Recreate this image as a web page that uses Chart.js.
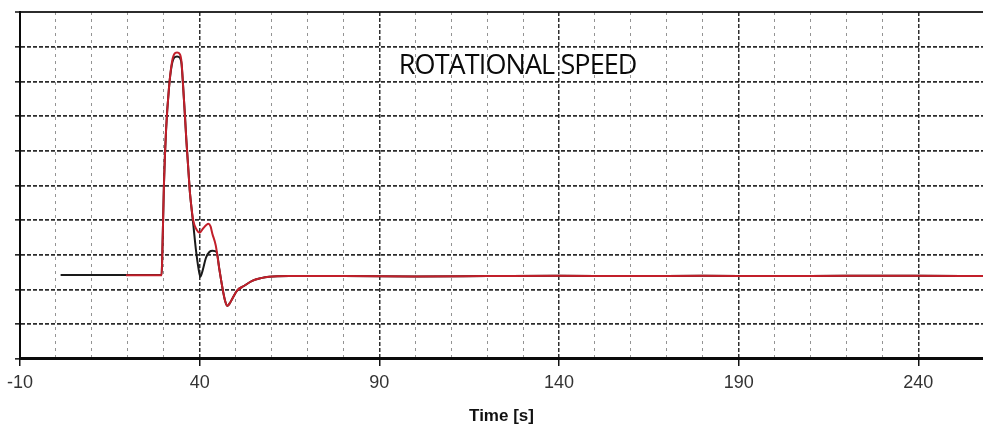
<!DOCTYPE html>
<html>
<head>
<meta charset="utf-8">
<script src="https://cdn.jsdelivr.net/npm/chart.js@4.4.1/dist/chart.umd.min.js"></script>
<style>
  html, body { margin: 0; padding: 0; background: #fff; }
  canvas { display: block; }
</style>
</head>
<body>
<canvas id="chart" width="983" height="431"></canvas>
<script>
// Time axis range and labelled ticks
const TIME_MIN = -10;
const TIME_MAX = 258;
const majorTicks = [-10, 40, 90, 140, 190, 240];

// Simulated rotational speed (red)
const simTime = [19.5, 25, 29.4, 29.6, 30.05, 30.65, 31.45, 32.2, 32.9, 33.7, 34.5, 34.96, 35.38, 35.9, 36.3, 37.24, 37.5, 38.2, 39.2, 40.03, 40.95, 42.42, 43.03, 43.53, 44.48, 45.4, 46.32, 47.07, 47.71, 48.46, 49.2, 50.4, 52.4, 54.6, 57.1, 59.3, 64.9, 80, 100, 120, 140, 160, 180, 200, 220, 240, 258];
const simSpeed = [2.41, 2.41, 2.41, 3.0, 5.0, 6.6, 7.8, 8.5, 8.78, 8.83, 8.78, 8.55, 7.89, 7.02, 6.30, 4.86, 4.57, 4.00, 3.72, 3.64, 3.76, 3.90, 3.82, 3.61, 3.27, 2.64, 2.06, 1.68, 1.53, 1.62, 1.76, 1.97, 2.11, 2.25, 2.33, 2.37, 2.39, 2.39, 2.38, 2.39, 2.40, 2.39, 2.40, 2.39, 2.40, 2.40, 2.39];

// Measured rotational speed (black)
const measTime = [1.3, 10, 20, 29.4, 29.6, 30.05, 30.65, 31.45, 32.2, 32.9, 33.7, 34.5, 34.96, 35.38, 35.9, 36.3, 37.24, 37.5, 38.2, 38.99, 39.69, 40.19, 40.8, 41.77, 42.75, 43.6, 44.75, 45.4, 46.32, 47.07, 47.71, 48.46, 49.2, 50.4, 52.4, 54.6, 57.1, 59.3, 64.9, 80, 100, 120, 140, 160, 180, 200, 220, 240, 258];
const measSpeed = [2.42, 2.42, 2.42, 2.42, 3.0, 5.0, 6.6, 7.8, 8.45, 8.68, 8.72, 8.68, 8.50, 7.89, 7.02, 6.30, 4.86, 4.57, 3.90, 3.12, 2.60, 2.37, 2.54, 2.92, 3.09, 3.12, 3.08, 2.64, 2.06, 1.68, 1.53, 1.62, 1.76, 1.97, 2.11, 2.25, 2.33, 2.37, 2.39, 2.39, 2.38, 2.39, 2.40, 2.39, 2.40, 2.39, 2.40, 2.40, 2.39];

const chartTitle = 'ROTATIONAL SPEED';
const titleAt = [128.5, 8.21];   // [time, speed] of the title baseline centre
const xAxisTitle = 'Time [s]';

const toPoints = (xs, ys) => xs.map((x, i) => ({ x, y: ys[i] }));
const isMajor = v => majorTicks.includes(Math.round(v));
const isGridStep = v => Math.abs(((v - TIME_MIN) / 10) - Math.round((v - TIME_MIN) / 10)) < 1e-6;

// In-plot caption
const captionPlugin = {
  id: 'caption',
  afterDatasetsDraw(chart) {
    const { ctx, scales } = chart;
    ctx.save();
    ctx.font = '27px "Open Sans"';
    if ('letterSpacing' in ctx) ctx.letterSpacing = '-0.9px';
    ctx.fillStyle = '#0a0a0a';
    ctx.textAlign = 'center';
    ctx.textBaseline = 'alphabetic';
    ctx.fillText(chartTitle, scales.x.getPixelForValue(titleAt[0]), scales.y.getPixelForValue(titleAt[1]));
    ctx.restore();
  }
};

new Chart(document.getElementById('chart'), {
  type: 'line',
  data: {
    datasets: [
      {
        label: 'Simulation',
        data: toPoints(simTime, simSpeed),
        borderColor: '#c21f2a',
        borderWidth: 2,
        pointRadius: 0,
        pointHoverRadius: 0,
        cubicInterpolationMode: 'monotone',
        fill: false
      },
      {
        label: 'Measurement',
        data: toPoints(measTime, measSpeed),
        borderColor: '#1a1a1a',
        borderWidth: 2,
        pointRadius: 0,
        pointHoverRadius: 0,
        cubicInterpolationMode: 'monotone',
        fill: false
      }
    ]
  },
  options: {
    responsive: false,
    animation: false,
    devicePixelRatio: 1,
    layout: { autoPadding: false, padding: { left: 15, top: 12, right: 0, bottom: 4 } },
    plugins: {
      legend: { display: false },
      tooltip: { enabled: false }
    },
    scales: {
      x: {
        type: 'linear',
        min: TIME_MIN,
        max: TIME_MAX,
        ticks: {
          stepSize: 10,
          autoSkip: false,
          maxRotation: 0,
          padding: 0,
          color: '#333',
          font: { family: '"Liberation Sans", Arial, sans-serif', size: 18, lineHeight: 1.867 },
          callback: v => (isMajor(v) ? String(v) : '')
        },
        grid: {
          drawTicks: true,
          tickLength: 7,
          color: c => {
            const v = c.tick ? c.tick.value : 0;
            if (!isGridStep(v)) return 'rgba(0,0,0,0)';
            return isMajor(v) ? 'rgba(10,10,10,0.85)' : 'rgba(0,0,0,0.42)';
          },
          lineWidth: c => (c.tick && isMajor(c.tick.value) ? 1.5 : 1),
          tickColor: c => (c.tick && isMajor(c.tick.value) ? '#111' : 'rgba(0,0,0,0)'),
          tickWidth: 1.5
        },
        border: {
          display: true,
          color: '#0a0a0a',
          width: 3,
          dash: c => (c.tick && isMajor(c.tick.value) ? [4, 2] : [3, 4])
        },
        title: {
          display: true,
          text: xAxisTitle,
          color: '#111',
          font: { family: '"Liberation Sans", Arial, sans-serif', size: 17, weight: 'bold' },
          padding: { top: 7, bottom: 0 }
        }
      },
      y: {
        min: 0,
        max: 10,
        ticks: { stepSize: 1, display: false },
        grid: {
          drawTicks: true,
          tickLength: 5,
          tickColor: '#111',
          tickWidth: 1.5,
          color: c => (c.tick && c.tick.value === 0 ? 'rgba(0,0,0,0)' : 'rgba(15,15,15,0.88)'),
          lineWidth: c => (c.tick && c.tick.value === 10 ? 2 : 1.7)
        },
        border: {
          display: true,
          color: '#0a0a0a',
          width: 2,
          dash: c => (c.tick && c.tick.value === 10 ? [] : [4, 2])
        }
      }
    }
  },
  plugins: [captionPlugin]
});
</script>
</body>
</html>
